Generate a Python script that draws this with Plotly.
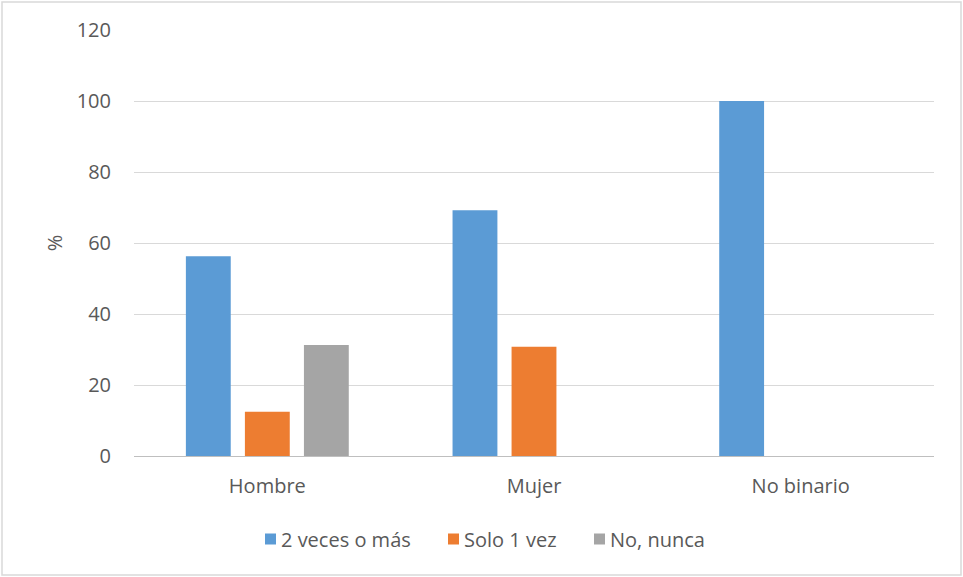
import plotly.graph_objects as go

categorias = ["Hombre", "Mujer", "No binario"]
series = ["2 veces o más", "Solo 1 vez", "No, nunca"]
dos_o_mas = [56.3, 69.2, 100.0]
solo_una = [12.5, 30.8, 0.0]
nunca = [31.3, 0.0, 0.0]
colores = ["#5B9BD5", "#ED7D31", "#A5A5A5"]
y_ticks = [0, 20, 40, 60, 80, 100, 120]

W, H = 963, 577
ml, mr, mt, mb = 134, 29, 30, 121
pw, ph = W - ml - mr, H - mt - mb
FONT = "Open Sans, sans-serif"
GRIS_TEXTO = "#595959"
TAM = 20

fig = go.Figure()
for nombre, valores, color in zip(series, [dos_o_mas, solo_una, nunca], colores):
    fig.add_trace(go.Bar(
        x=categorias, y=valores, name=nombre,
        marker=dict(color=color, line=dict(width=0)),
        showlegend=False,
    ))

def px_x(p):
    return (p - ml) / pw

def px_y(p):
    return (H - mb - p) / ph

# Legend drawn as small squares plus labels along the bottom
leyenda_x = [265, 448, 594]
leyenda_y = 539
shapes = [dict(
    type="rect", xref="paper", yref="paper",
    x0=px_x(2), x1=px_x(961), y0=px_y(575), y1=px_y(2),
    line=dict(color="#D9D9D9", width=1.5), fillcolor="rgba(0,0,0,0)",
    layer="below",
)]
annotations = []
for nombre, color, x0 in zip(series, colores, leyenda_x):
    shapes.append(dict(
        type="rect", xref="paper", yref="paper",
        x0=px_x(x0), x1=px_x(x0 + 11),
        y0=px_y(leyenda_y + 5.5), y1=px_y(leyenda_y - 5.5),
        line=dict(width=0), fillcolor=color,
    ))
    annotations.append(dict(
        text=nombre, xref="paper", yref="paper",
        x=px_x(x0 + 14), y=px_y(leyenda_y),
        xanchor="left", yanchor="middle", showarrow=False,
        font=dict(family=FONT, size=TAM, color=GRIS_TEXTO),
    ))

fig.update_layout(
    width=W, height=H,
    margin=dict(l=ml, r=mr, t=mt, b=mb),
    paper_bgcolor="white", plot_bgcolor="white",
    barmode="group", bargap=0.336, bargroupgap=0.24,
    font=dict(family=FONT, size=TAM, color=GRIS_TEXTO),
    showlegend=False,
    xaxis=dict(
        showgrid=False, showline=True, linecolor="#BFBFBF", linewidth=1,
        ticks="", tickfont=dict(family=FONT, size=TAM, color=GRIS_TEXTO),
        ticklabelstandoff=12,
    ),
    yaxis=dict(
        range=[0, 120], tickvals=y_ticks, showgrid=True,
        gridcolor="#D9D9D9", gridwidth=1, zeroline=False, showline=False,
        ticks="", tickfont=dict(family=FONT, size=TAM, color=GRIS_TEXTO),
        ticklabelstandoff=22,
        title=dict(text="%", font=dict(family=FONT, size=TAM, color=GRIS_TEXTO), standoff=8),
    ),
    shapes=shapes,
    annotations=annotations,
)

fig.write_html("out.html")
